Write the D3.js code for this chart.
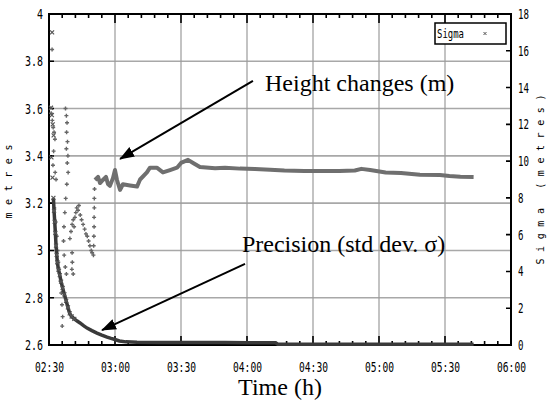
<!DOCTYPE html>
<html>
<head>
<meta charset="utf-8">
<script src="https://cdn.jsdelivr.net/npm/d3@7"></script>
<style>
  html, body { margin: 0; padding: 0; background: #fff; }
  svg { display: block; }
</style>
</head>
<body>
<div id="chart"></div>
<script>
// time in minutes after 02:30
const timeTicks = [0, 30, 60, 90, 120, 150, 180, 210];
const timeLabels = ["02:30", "03:00", "03:30", "04:00", "04:30", "05:00", "05:30", "06:00"];
const leftTicks = [2.6, 2.8, 3, 3.2, 3.4, 3.6, 3.8, 4];
const leftLabels = ["2.6", "2.8", "3", "3.2", "3.4", "3.6", "3.8", "4"];
const rightTicks = [0, 2, 4, 6, 8, 10, 12, 14, 16, 18];

// height changes, early scattered fixes (+ markers)
const heightScatterT = [1.4, 1.0, 1.5, 1.9, 2.3, 2.7, 2.1, 1.8, 2.8, 3.2, 2.4, 3.0, 3.5, 3.9, 4.2, 4.6, 5.2, 5.6, 5.9, 6.2, 6.0,
  7.5, 7.9, 8.2, 8.0, 8.4, 7.9, 8.6, 8.3, 8.7, 8.1, 7.6, 7.2, 6.8, 6.6, 6.9, 7.4, 7.9,
  9.5, 10.0, 10.5, 11.0, 11.4, 11.8, 12.2, 12.6, 13.2, 13.6, 14.2, 14.8, 15.5, 16.2, 16.8, 17.4, 18.0, 18.6, 19.2, 19.6,
  10.5, 10.6, 10.4, 11.0,
  20.2, 20.3, 20.4, 20.5, 20.5, 20.6, 20.6, 20.7];
const heightScatterV = [3.85, 3.58, 3.55, 3.52, 3.5, 3.47, 3.42, 3.36, 3.33, 3.3, 3.18, 3.12, 3.06, 3.0, 2.95, 2.92, 2.87, 2.82, 2.77, 2.72, 2.68,
  3.6, 3.57, 3.54, 3.5, 3.46, 3.43, 3.40, 3.37, 3.33, 3.28, 3.22, 3.16, 3.1, 3.04, 2.98, 2.93, 2.9,
  3.05, 3.08, 3.11, 3.13, 3.10, 3.14, 3.16, 3.18, 3.17, 3.19, 3.15, 3.13, 3.11, 3.09, 3.07, 3.06, 3.04, 3.02, 3.0, 2.99,
  2.99, 2.95, 2.92, 2.9,
  2.98, 3.02, 3.06, 3.1, 3.14, 3.18, 3.22, 3.26];

// height changes, settled solution (line)
const heightT = [20.9, 22.3, 23.2, 24.5, 25.9, 26.8, 27.7, 29.1, 30, 30.9, 32.3, 33.6, 36.8, 40, 41.4, 44.5, 45.9, 49, 51.8, 55, 58.2, 60,
  63.2, 65.5, 68.6, 75.5, 80, 86.8, 93.6, 100.5, 107, 116, 123, 132, 139, 142, 146, 153, 160, 168.6, 177.7, 182, 187, 193];
const heightV = [3.298, 3.311, 3.285, 3.298, 3.311, 3.281, 3.273, 3.306, 3.34, 3.298, 3.256, 3.28, 3.275, 3.27, 3.30, 3.33, 3.35, 3.35, 3.33, 3.34, 3.35, 3.37,
  3.383, 3.37, 3.353, 3.348, 3.35, 3.346, 3.344, 3.341, 3.338, 3.336, 3.336, 3.336, 3.338, 3.345, 3.34, 3.33, 3.327, 3.32, 3.319, 3.315, 3.312, 3.311];

// sigma (metres, right axis)
const sigmaEarlyT = [1.4, 0.9, 1.3, 1.7, 2.1, 1.1, 1.6];
const sigmaEarly = [17.0, 12.9, 12.5, 12.0, 11.4, 10.2, 9.1];
const sigmaT = [2.0, 2.3, 2.6, 2.9, 3.2, 3.5, 3.8, 4.3, 4.9, 5.5, 6.2, 7.0, 7.8, 8.6, 9.4, 10.3, 11.5, 12.8, 14.1, 15.7, 17.3, 19.5,
  21.8, 24, 26.4, 28.2, 30, 32, 35, 40, 50, 60, 70, 80, 90, 103, 104, 120, 140, 160, 180, 193];
const sigma = [8.0, 7.3, 6.7, 6.1, 5.4, 4.9, 4.5, 4.1, 3.8, 3.45, 3.1, 2.75, 2.4, 2.05, 1.72, 1.55, 1.42, 1.3, 1.2, 1.05, 0.92, 0.78,
  0.65, 0.54, 0.43, 0.36, 0.3, 0.22, 0.17, 0.15, 0.14, 0.14, 0.13, 0.13, 0.12, 0.12, 0.04, 0.04, 0.04, 0.04, 0.04, 0.04];

const W = 547, H = 405;
const monoFont = "'DejaVu Sans Mono', monospace";
const serifFont = "'Liberation Serif', 'Times New Roman', serif";

const svg = d3.select("#chart").append("svg")
    .attr("width", W)
    .attr("height", H);

const x = d3.scaleLinear().domain([0, 210]).range([49, 511]);
const yL = d3.scaleLinear().domain([2.6, 4]).range([345, 14]);
const yR = d3.scaleLinear().domain([0, 18]).range([345, 14]);
const x0 = 49, x1 = 511, yTop = 14, yBot = 345;

// grid, drawn as single paths built from the scales
const hGrid = d3.path();
leftTicks.slice(1, -1).forEach(v => { hGrid.moveTo(x0, yL(v)); hGrid.lineTo(x1, yL(v)); });
svg.append("path")
    .attr("d", hGrid.toString())
    .attr("fill", "none")
    .attr("stroke", "#a8a8a8")
    .attr("stroke-width", 1.6);

const vGrid = d3.path();
timeTicks.slice(1, -1).forEach(t => { vGrid.moveTo(x(t), yTop); vGrid.lineTo(x(t), yBot); });
svg.append("path")
    .attr("d", vGrid.toString())
    .attr("fill", "none")
    .attr("stroke", "#9c9c9c")
    .attr("stroke-width", 1.2);

// tick marks, inward on all four sides
const minorTicks = d3.range(0, 211, 6);
const tickPath = d3.path();
minorTicks.forEach(t => {
    tickPath.moveTo(x(t), yBot); tickPath.lineTo(x(t), yBot - 4);
    tickPath.moveTo(x(t), yTop); tickPath.lineTo(x(t), yTop + 4);
});
timeTicks.forEach(t => {
    tickPath.moveTo(x(t), yBot); tickPath.lineTo(x(t), yBot - 9);
    tickPath.moveTo(x(t), yTop); tickPath.lineTo(x(t), yTop + 9);
});
leftTicks.forEach(v => { tickPath.moveTo(x0, yL(v)); tickPath.lineTo(x0 + 5, yL(v)); });
rightTicks.forEach(s => { tickPath.moveTo(x1, yR(s)); tickPath.lineTo(x1 - 5, yR(s)); });
svg.append("path")
    .attr("d", tickPath.toString())
    .attr("fill", "none")
    .attr("stroke", "#000")
    .attr("stroke-width", 1.6);

// axis labels
function styleLabels(g, len) {
    g.select(".domain").remove();
    g.selectAll(".tick line").remove();
    g.selectAll("text")
        .attr("font-family", monoFont)
        .attr("font-size", 14)
        .attr("fill", "#000")
        .attr("textLength", function () { return this.textContent.length * len; })
        .attr("lengthAdjust", "spacingAndGlyphs");
}

svg.append("g")
    .attr("transform", `translate(0,${yBot})`)
    .call(d3.axisBottom(x).tickValues(timeTicks).tickSize(0).tickPadding(17)
        .tickFormat((d, i) => timeLabels[i]))
    .call(g => styleLabels(g, 5.8));

svg.append("g")
    .attr("transform", `translate(${x0},0)`)
    .call(d3.axisLeft(yL).tickValues(leftTicks).tickSize(0).tickPadding(6)
        .tickFormat((d, i) => leftLabels[i]))
    .call(g => styleLabels(g, 6));

svg.append("g")
    .attr("transform", `translate(${x1},0)`)
    .call(d3.axisRight(yR).tickValues(rightTicks).tickSize(0).tickPadding(7))
    .call(g => styleLabels(g, 5.5));

// frame
svg.append("rect")
    .attr("x", x0).attr("y", yTop)
    .attr("width", x1 - x0).attr("height", yBot - yTop)
    .attr("fill", "none")
    .attr("stroke", "#000")
    .attr("stroke-width", 2);

// height series
const heightPts = heightScatterT.map((t, i) => ({t, v: heightScatterV[i]}));
svg.append("g")
    .selectAll("path")
    .data(heightPts)
    .join("path")
    .attr("transform", d => `translate(${x(d.t)},${yL(d.v)})`)
    .attr("d", "M-2,0H2M0,-2V2")
    .attr("fill", "none")
    .attr("stroke", "#666")
    .attr("stroke-width", 1.4);

const heightLine = heightT.map((t, i) => ({t, v: heightV[i]}));
svg.append("path")
    .datum(heightLine)
    .attr("fill", "none")
    .attr("stroke", "#6f6f6f")
    .attr("stroke-width", 4)
    .attr("stroke-linejoin", "round")
    .attr("d", d3.line().x(d => x(d.t)).y(d => yL(d.v)));

// sigma series
const sigmaPts = sigmaEarlyT.map((t, i) => ({t, s: sigmaEarly[i]}));
const sigmaLine = sigmaT.map((t, i) => ({t, s: sigma[i]}));
svg.append("path")
    .datum(sigmaLine)
    .attr("fill", "none")
    .attr("stroke", "#3a3a3a")
    .attr("stroke-width", 3.5)
    .attr("d", d3.line().x(d => x(d.t)).y(d => yR(d.s)));

svg.append("g")
    .selectAll("path")
    .data(sigmaPts.concat(sigmaLine.filter(d => d.t < 12)))
    .join("path")
    .attr("transform", d => `translate(${x(d.t)},${yR(d.s)})`)
    .attr("d", "M-2,-2L2,2M-2,2L2,-2")
    .attr("fill", "none")
    .attr("stroke", "#555")
    .attr("stroke-width", 1.2);

// legend
const lg = svg.append("g").attr("transform", "translate(435,23)");
lg.append("rect")
    .attr("width", 71).attr("height", 21)
    .attr("fill", "#fff")
    .attr("stroke", "#000")
    .attr("stroke-width", 1.5);
lg.append("text")
    .attr("x", 2).attr("y", 15)
    .attr("font-family", monoFont)
    .attr("font-size", 13)
    .attr("textLength", 27)
    .attr("lengthAdjust", "spacingAndGlyphs")
    .text("Sigma");
lg.append("path")
    .attr("transform", "translate(50,10.5)")
    .attr("d", "M-1.5,-1.5L1.5,1.5M-1.5,1.5L1.5,-1.5")
    .attr("stroke", "#555")
    .attr("stroke-width", 1);

// axis titles
svg.append("text")
    .attr("transform", `translate(12,${(yTop + yBot) / 2 + 2}) rotate(-90)`)
    .attr("text-anchor", "middle")
    .attr("font-family", monoFont)
    .attr("font-size", 10)
    .attr("textLength", 74)
    .attr("lengthAdjust", "spacing")
    .text("metres");

svg.append("text")
    .attr("transform", `translate(544,${(yTop + yBot) / 2}) rotate(-90)`)
    .attr("text-anchor", "middle")
    .attr("font-family", monoFont)
    .attr("font-size", 10)
    .attr("textLength", 170)
    .attr("lengthAdjust", "spacing")
    .text("Sigma (metres)");

svg.append("text")
    .attr("x", x(105)).attr("y", 395)
    .attr("text-anchor", "middle")
    .attr("font-family", serifFont)
    .attr("font-size", 24)
    .text("Time (h)");

// annotations
svg.append("defs").append("marker")
    .attr("id", "head")
    .attr("markerUnits", "userSpaceOnUse")
    .attr("viewBox", "0 -6 15 12")
    .attr("refX", 14).attr("refY", 0)
    .attr("markerWidth", 15).attr("markerHeight", 12)
    .attr("orient", "auto")
    .append("path")
    .attr("d", "M0,-5.5L15,0L0,5.5Z")
    .attr("fill", "#000");

const notes = [
    {text: "Height changes (m)", tx: 98.2, tv: 3.674, t0: 92.7, v0: 3.717, t1: 32.3, v1: 3.387},
    {text: "Precision (std dev. \u03c3)", tx: 87.7, tv: 2.993, t0: 89.1, v0: 2.943, t1: 24.1, v1: 2.663}
];
notes.forEach(n => {
    svg.append("line")
        .attr("x1", x(n.t0)).attr("y1", yL(n.v0))
        .attr("x2", x(n.t1)).attr("y2", yL(n.v1))
        .attr("stroke", "#000")
        .attr("stroke-width", 2)
        .attr("marker-end", "url(#head)");
    svg.append("text")
        .attr("x", x(n.tx)).attr("y", yL(n.tv))
        .attr("font-family", serifFont)
        .attr("font-size", 24)
        .text(n.text);
});
</script>
</body>
</html>
